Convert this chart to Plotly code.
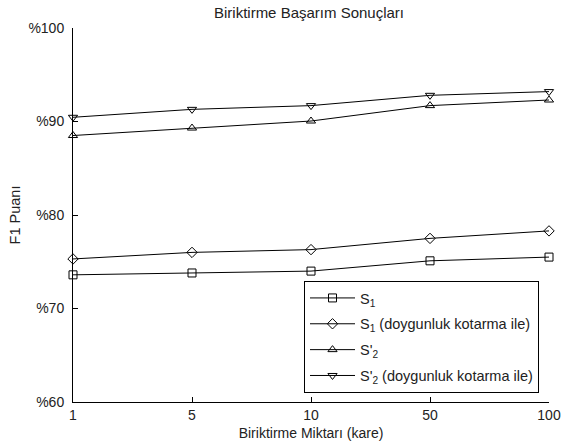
import plotly.graph_objects as go

categories = ["1", "5", "10", "50", "100"]
s1 = [73.6, 73.8, 74.0, 75.1, 75.5]
s1_doy = [75.3, 76.0, 76.3, 77.5, 78.3]
s2 = [88.5, 89.3, 90.05, 91.7, 92.3]
s2_doy = [90.45, 91.3, 91.7, 92.8, 93.2]
ytick_vals = [60, 70, 80, 90, 100]
ytick_text = ["%60", "%70", "%80", "%90", "%100"]

series = [
    ("S<sub>1</sub>", s1, "square-open"),
    ("S<sub>1</sub> (doygunluk kotarma ile)", s1_doy, "diamond-open"),
    ("S'<sub>2</sub>", s2, "triangle-up-open"),
    ("S'<sub>2</sub> (doygunluk kotarma ile)", s2_doy, "triangle-down-open"),
]

fig = go.Figure()
for i, (name, vals, sym) in enumerate(series):
    fig.add_trace(go.Scatter(
        x=categories, y=vals, name=name, mode="lines+markers",
        legendgroup="g%d" % i,
        line=dict(color="black", width=1),
        marker=dict(symbol=sym, size=8, color="black", line=dict(width=1, color="black")),
        cliponaxis=False,
    ))

fig.update_layout(
    width=561, height=447,
    margin=dict(l=73, r=12, t=28, b=45, autoexpand=False),
    paper_bgcolor="white", plot_bgcolor="white",
    font=dict(family="Liberation Sans, Arial, sans-serif", size=14, color="#222"),
    title=dict(text="Biriktirme Başarım Sonuçları", x=309 / 561, xanchor="center",
               y=1 - 13 / 447, yanchor="middle", yref="container",
               font=dict(size=15, color="#222")),
    showlegend=True,
    legend=dict(x=(304 - 73) / 476, y=(402 - 393) / 374, xanchor="left", yanchor="bottom",
                bordercolor="black", borderwidth=1, bgcolor="white",
                font=dict(size=14.5, color="#222"), tracegroupgap=4, itemwidth=45),
)
fig.update_xaxes(type="category", range=[0, 4], showline=True, linecolor="black",
                 linewidth=1, ticks="inside", ticklen=5, tickcolor="black",
                 showgrid=False, zeroline=False, mirror=False, automargin=False,
                 title=dict(text="Biriktirme Miktarı (kare)", standoff=6,
                            font=dict(size=14)))
fig.update_yaxes(range=[60, 100], tickvals=ytick_vals, ticktext=ytick_text,
                 showline=True, linecolor="black", linewidth=1,
                 ticks="inside", ticklen=5, tickcolor="black", ticklabelstandoff=5,
                 showgrid=False, zeroline=False, mirror=False, automargin=False,
                 title=dict(text="F1 Puanı", standoff=4, font=dict(size=14.5)))

fig.write_html("out.html", config={"displayModeBar": False})
with open("out.html", "r", encoding="utf-8") as f:
    html = f.read()
html = html.replace("<body>", '<body style="margin:0">', 1)
with open("out.html", "w", encoding="utf-8") as f:
    f.write(html)
